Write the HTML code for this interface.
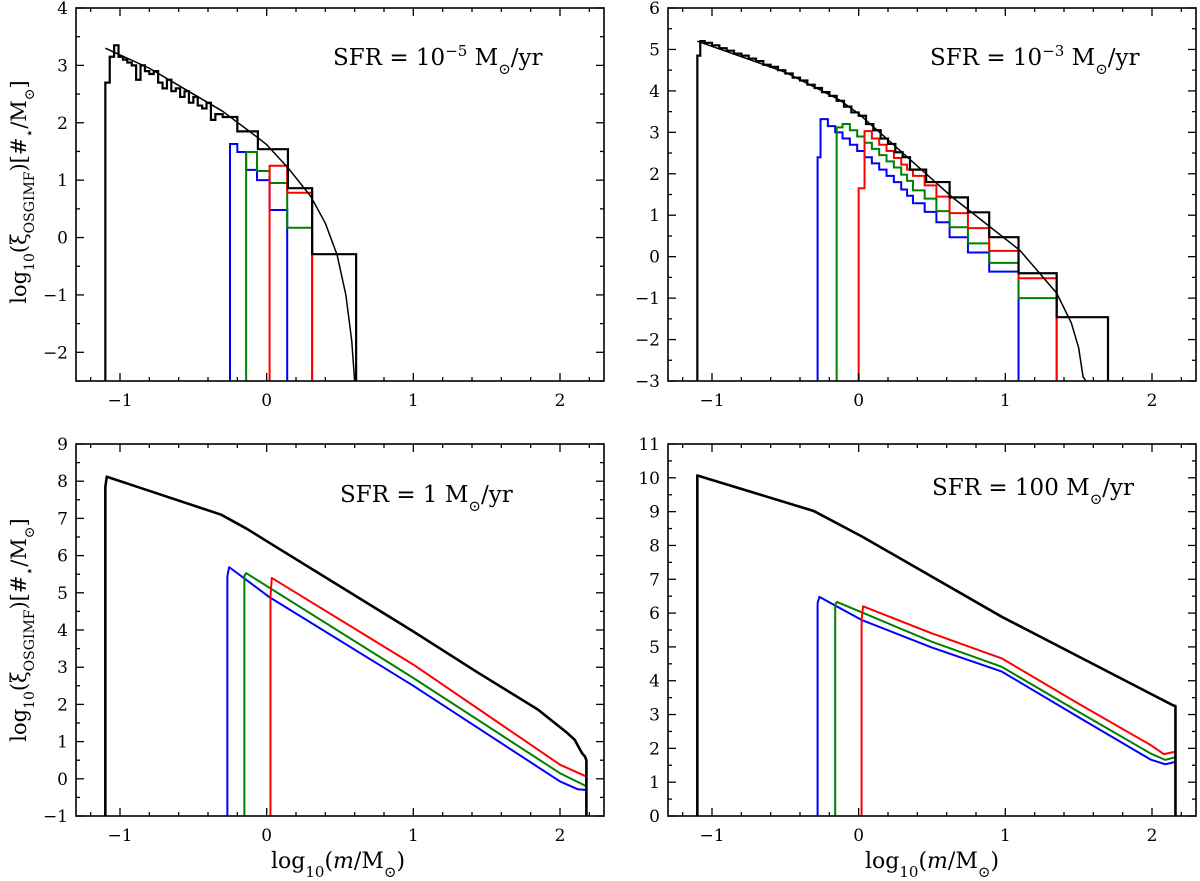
<!DOCTYPE html>
<html><head><meta charset="utf-8">
<style>
html,body{margin:0;padding:0;background:#fff;}
svg{display:block;font-family:"DejaVu Serif","Liberation Serif",serif;}
</style></head>
<body>
<svg id="fig" width="1200" height="881" viewBox="0 0 1200 881" xmlns="http://www.w3.org/2000/svg"></svg>
<script>
// ---- Panel 1: SFR = 1e-5 ----
const p1BlackEdges = [-1.1,-1.07,-1.04,-1.01,-0.98,-0.95,-0.92,-0.89,-0.86,-0.83,-0.80,-0.77,-0.74,-0.71,-0.68,-0.65,-0.62,-0.59,-0.56,-0.53,-0.50,-0.47,-0.44,-0.41,-0.38,-0.35,-0.30,-0.20,-0.06,0.145,0.31,0.61];
const p1BlackVals = [2.7,3.15,3.35,3.15,3.1,3.05,3.0,2.75,3.0,2.9,2.85,2.9,2.7,2.6,2.75,2.55,2.6,2.45,2.55,2.35,2.45,2.3,2.25,2.35,2.05,2.15,2.1,1.85,1.54,0.86,-0.29];
const p1BlueEdges = [-0.25,-0.2,-0.14,-0.066,0.02,0.14];
const p1BlueVals = [1.63,1.49,1.18,1.0,0.48];
const p1GreenEdges = [-0.14,-0.066,0.02,0.14,0.31];
const p1GreenVals = [1.49,1.16,0.95,0.17];
const p1RedEdges = [0.02,0.14,0.31];
const p1RedVals = [1.25,0.78];
const p1CurveX = [-1.1,-0.8,-0.5,-0.3,-0.06,0.0,0.15,0.3,0.4,0.48,0.54,0.58,0.6];
const p1CurveY = [3.3,2.95,2.5,2.2,1.74,1.62,1.2,0.72,0.25,-0.3,-1.0,-1.8,-2.5];

// ---- Panel 2: SFR = 1e-3 ----
const p2BlackEdges = [-1.1,-1.08,-1.05,-1.0,-0.95,-0.9,-0.85,-0.8,-0.75,-0.7,-0.65,-0.6,-0.55,-0.5,-0.45,-0.4,-0.35,-0.3,-0.25,-0.2,-0.15,-0.1,-0.05,0.0,0.05,0.1,0.15,0.2,0.25,0.3,0.35,0.46,0.62,0.745,0.89,1.09,1.35,1.70];
const p2BlackVals = [4.85,5.2,5.16,5.1,5.03,4.97,4.9,4.85,4.78,4.72,4.63,4.58,4.5,4.42,4.32,4.25,4.15,4.07,3.97,3.88,3.76,3.62,3.48,3.4,3.2,3.05,2.85,2.72,2.52,2.4,2.1,1.8,1.43,1.07,0.47,-0.4,-1.46];
const p2BlueEdges = [-0.28,-0.26,-0.21,-0.16,-0.11,-0.06,-0.01,0.04,0.09,0.14,0.19,0.24,0.29,0.33,0.37,0.45,0.53,0.62,0.745,0.89,1.09];
const p2BlueVals = [2.4,3.32,3.15,3.0,2.85,2.7,2.55,2.4,2.25,2.1,1.95,1.8,1.62,1.47,1.29,1.08,0.83,0.47,0.1,-0.36];
const p2GreenEdges = [-0.15,-0.11,-0.06,-0.01,0.04,0.09,0.14,0.19,0.24,0.29,0.33,0.37,0.45,0.53,0.62,0.745,0.89,1.09,1.35];
const p2GreenVals = [3.12,3.2,3.05,2.9,2.75,2.6,2.45,2.3,2.15,1.98,1.83,1.6,1.4,1.1,0.71,0.32,-0.15,-1.0];
const p2RedEdges = [0.0,0.04,0.09,0.14,0.19,0.24,0.29,0.33,0.37,0.45,0.53,0.62,0.745,0.89,1.09,1.35];
const p2RedVals = [1.65,3.03,2.85,2.7,2.55,2.38,2.22,2.1,1.95,1.72,1.45,1.05,0.69,0.14,-0.52];
const p2CurveX = [-1.1,-0.5,-0.13,0.0,0.64,1.1,1.35,1.45,1.5,1.53,1.55];
const p2CurveY = [5.2,4.45,3.78,3.45,1.43,0.15,-0.88,-1.6,-2.2,-2.9,-3.0];

// ---- Panel 3: SFR = 1 ----
const p3BlackX = [-1.1,-1.1,-1.09,-0.31,-0.135,0.02,1.0,1.43,1.85,2.05,2.1,2.15,2.17,2.18,2.18];
const p3BlackY = [-1,7.85,8.12,7.10,6.72,6.34,3.96,2.88,1.86,1.23,1.05,0.69,0.6,0.5,-1];
const p3BlueX = [-0.268,-0.268,-0.256,0.02,1.0,2.0,2.12,2.18,2.18];
const p3BlueY = [-1,5.44,5.69,4.88,2.50,-0.07,-0.28,-0.3,-1];
const p3GreenX = [-0.152,-0.152,-0.14,1.0,2.0,2.18,2.18];
const p3GreenY = [-1,5.45,5.53,2.71,0.15,-0.2,-1];
const p3RedX = [0.026,0.026,0.035,1.0,2.0,2.18,2.18];
const p3RedY = [-1,4.9,5.40,3.07,0.38,0.06,-1];

// ---- Panel 4: SFR = 100 ----
const p4BlackX = [-1.1,-1.1,-0.307,0.024,0.976,2.14,2.16,2.16];
const p4BlackY = [0,10.07,9.02,8.26,5.89,3.28,3.25,0];
const p4BlueX = [-0.28,-0.28,-0.268,0.024,0.5,0.976,1.5,1.99,2.09,2.16,2.16];
const p4BlueY = [0,6.29,6.48,5.79,4.98,4.27,2.92,1.67,1.53,1.6,0];
const p4GreenX = [-0.16,-0.16,-0.148,0.5,0.976,1.5,1.99,2.09,2.16,2.16];
const p4GreenY = [0,6.25,6.33,5.15,4.41,3.08,1.85,1.66,1.74,0];
const p4RedX = [0.02,0.02,0.03,0.5,0.976,1.5,1.99,2.08,2.16,2.16];
const p4RedY = [0,5.8,6.2,5.4,4.66,3.32,2.1,1.83,1.9,0];

const xTicks = [-1,0,1,2];
const xTickLabels = ["\u22121","0","1","2"];
const p1YTicks = [-2,-1,0,1,2,3,4];
const p2YTicks = [-3,-2,-1,0,1,2,3,4,5,6];
const p3YTicks = [-1,0,1,2,3,4,5,6,7,8,9];
const p4YTicks = [0,1,2,3,4,5,6,7,8,9,10,11];

const NS = "http://www.w3.org/2000/svg";
const svg = document.getElementById("fig");
function mk(tag, attrs, parent){
  const e = document.createElementNS(NS, tag);
  for (const k in attrs) e.setAttribute(k, attrs[k]);
  (parent||svg).appendChild(e);
  return e;
}
function fmt(v){ return v < 0 ? "\u2212" + Math.abs(v) : String(v); }

function panel(id, L, R, T, B, ymin, ymax, yticks){
  const g = mk("g", {});
  
  
  const sx = v => L + (v + 1.3) / 3.6 * (R - L);
  const sy = v => B - (v - ymin) / (ymax - ymin) * (B - T);
  const cid = "clip-" + id;
  const cp = mk("clipPath", {id: cid}, g);
  mk("rect", {x: L, y: T, width: R - L, height: B - T}, cp);
  const plot = mk("g", {"clip-path": "url(#" + cid + ")"}, g);
  
  
  const tg = mk("g", {stroke: "#000", "stroke-width": 1.3}, g);
  
  
  for (let k = -6; k <= 11; k++) {
    const v = k * 0.2;
    if (v < -1.3 || v > 2.3) continue;
    const x = sx(v);
    const major = Math.abs(v - Math.round(v)) < 1e-6;
    const len = major ? 8 : 4;
    mk("line", {x1: x, y1: B, x2: x, y2: B - len}, tg);
    mk("line", {x1: x, y1: T, x2: x, y2: T + len}, tg);
  }
  for (let v = ymin; v <= ymax + 1e-6; v += 0.5) {
    const y = sy(v);
    const major = Math.abs(v - Math.round(v)) < 1e-6;
    const len = major ? 8 : 4;
    mk("line", {x1: L, y1: y, x2: L + len, y2: y}, tg);
    mk("line", {x1: R, y1: y, x2: R - len, y2: y}, tg);
  }
  xTicks.forEach((v, i) => {
    const t = mk("text", {x: sx(v), y: B + 25, "font-size": 17, "text-anchor": "middle", fill: "#000"}, g);
    
    
    t.textContent = xTickLabels[i];
  });
  yticks.forEach(v => {
    const t = mk("text", {x: L - 8, y: sy(v) + 6, "font-size": 17, "text-anchor": "end", fill: "#000"}, g);
    
    
    t.textContent = fmt(v);
  });
  const fr = mk("rect", {x: L, y: T, width: R - L, height: B - T, fill: "none", stroke: "#000", "stroke-width": 1.6}, g);
  
  
  return {plot, sx, sy, ymin, g, L, R, T, B};
}

function steps(P, edges, vals, color, name, w){
  let d = "M" + P.sx(edges[0]) + "," + P.sy(P.ymin - 1);
  for (let i = 0; i < vals.length; i++) {
    d += " L" + P.sx(edges[i]) + "," + P.sy(vals[i]) + " L" + P.sx(edges[i + 1]) + "," + P.sy(vals[i]);
  }
  d += " L" + P.sx(edges[edges.length - 1]) + "," + P.sy(P.ymin - 1);
  const p = mk("path", {d, fill: "none", stroke: color, "stroke-width": w || 2}, P.plot);
  
  
}
function line(P, xs, ys, color, name, w){
  let d = "";
  xs.forEach((x, i) => { d += (i ? " L" : "M") + P.sx(x) + "," + P.sy(ys[i]); });
  const p = mk("path", {d, fill: "none", stroke: color, "stroke-width": w || 2, "stroke-linejoin": "round"}, P.plot);
  
  
}
function note(P, x, y, parts, name){
  const t = mk("text", {x, y, "font-size": 23, fill: "#000"}, P.g);
  
  
  parts.forEach(p => {
    const s = mk("tspan", {}, t);
    if (p.sup) { s.setAttribute("baseline-shift", "super"); s.setAttribute("font-size", 15); }
    if (p.sub) { s.setAttribute("baseline-shift", "sub"); s.setAttribute("font-size", 15); }
    s.textContent = p.t;
  });
}

const BLUE = "#0000ff", GREEN = "#008000", RED = "#ff0000";

const P1 = panel("panel-sfr-1e-5", 76, 604, 8, 381, -2.5, 4, p1YTicks);
steps(P1, p1BlueEdges, p1BlueVals, BLUE, "blue-histogram");
steps(P1, p1GreenEdges, p1GreenVals, GREEN, "green-histogram");
steps(P1, p1RedEdges, p1RedVals, RED, "red-histogram");
steps(P1, p1BlackEdges, p1BlackVals, "#000", "black-histogram", 2.2);
line(P1, p1CurveX, p1CurveY, "#000", "analytic-imf-curve", 1.5);
note(P1, 333, 65, [{t: "SFR = 10"}, {t: "\u22125", sup: 1}, {t: " M"}, {t: "\u2299", sub: 1}, {t: "/yr"}], "sfr-annotation");

const P2 = panel("panel-sfr-1e-3", 668, 1196, 8, 381, -3, 6, p2YTicks);
steps(P2, p2BlueEdges, p2BlueVals, BLUE, "blue-histogram");
steps(P2, p2GreenEdges, p2GreenVals, GREEN, "green-histogram");
steps(P2, p2RedEdges, p2RedVals, RED, "red-histogram");
steps(P2, p2BlackEdges, p2BlackVals, "#000", "black-histogram", 2.2);
line(P2, p2CurveX, p2CurveY, "#000", "analytic-imf-curve", 1.5);
note(P2, 930, 65, [{t: "SFR = 10"}, {t: "\u22123", sup: 1}, {t: " M"}, {t: "\u2299", sub: 1}, {t: "/yr"}], "sfr-annotation");

const P3 = panel("panel-sfr-1", 76, 604, 444, 816, -1, 9, p3YTicks);
line(P3, p3BlueX, p3BlueY, BLUE, "blue-line");
line(P3, p3GreenX, p3GreenY, GREEN, "green-line");
line(P3, p3RedX, p3RedY, RED, "red-line");
line(P3, p3BlackX, p3BlackY, "#000", "black-line", 2.6);
note(P3, 340, 502, [{t: "SFR = 1 M"}, {t: "\u2299", sub: 1}, {t: "/yr"}], "sfr-annotation");

const P4 = panel("panel-sfr-100", 668, 1196, 444, 816, 0, 11, p4YTicks);
line(P4, p4BlueX, p4BlueY, BLUE, "blue-line");
line(P4, p4GreenX, p4GreenY, GREEN, "green-line");
line(P4, p4RedX, p4RedY, RED, "red-line");
line(P4, p4BlackX, p4BlackY, "#000", "black-line", 2.6);
note(P4, 932, 495, [{t: "SFR = 100 M"}, {t: "\u2299", sub: 1}, {t: "/yr"}], "sfr-annotation");

function ylab(x, cy, name){
  const t = mk("text", {x: 0, y: 0, "font-size": 21, "text-anchor": "middle", transform: "translate(" + x + "," + cy + ") rotate(-90)", fill: "#000"});
  
  
  const parts = [{t: "log"}, {t: "10", sub: 1}, {t: "(\u03BE"}, {t: "OSGIMF", sub: 1}, {t: ")[#"}, {t: "\u22C6", sub: 1}, {t: "/M"}, {t: "\u2299", sub: 1}, {t: "]"}];
  parts.forEach(p => {
    const s = mk("tspan", {}, t);
    if (p.sub) { s.setAttribute("baseline-shift", "sub"); s.setAttribute("font-size", 14); }
    s.textContent = p.t;
  });
}
ylab(26, 192, "y-axis-title-top");
ylab(26, 630, "y-axis-title-bottom");
function xlab(cx, name){
  const t = mk("text", {x: cx, y: 868, "font-size": 22, "text-anchor": "middle", fill: "#000"});
  
  
  const parts = [{t: "log"}, {t: "10", sub: 1}, {t: "("}, {t: "m", it: 1}, {t: "/M"}, {t: "\u2299", sub: 1}, {t: ")"}];
  parts.forEach(p => {
    const s = mk("tspan", {}, t);
    if (p.sub) { s.setAttribute("baseline-shift", "sub"); s.setAttribute("font-size", 15); }
    if (p.it) s.setAttribute("font-style", "italic");
    s.textContent = p.t;
  });
}
xlab(338, "x-axis-title-left");
xlab(932, "x-axis-title-right");
</script>
</body></html>
